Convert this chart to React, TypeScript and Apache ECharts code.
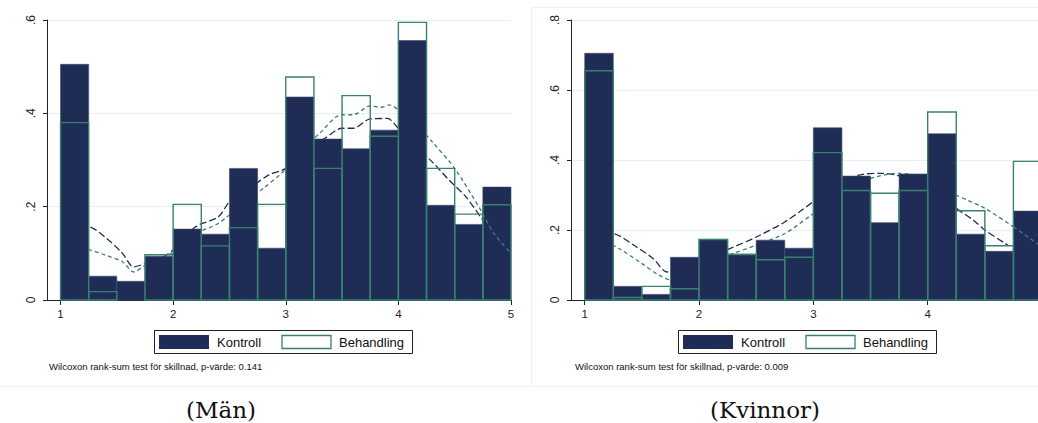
import React, { useEffect, useRef } from 'react';
import * as echarts from 'echarts';

// histogram bins (start of each bin, width 0.25)
const binStarts = [1, 1.25, 1.5, 1.75, 2, 2.25, 2.5, 2.75, 3, 3.25, 3.5, 3.75, 4, 4.25, 4.5, 4.75];
const binWidth = 0.25;

// Män
const menKontroll = [0.505, 0.051, 0.040, 0.094, 0.152, 0.141, 0.282, 0.111, 0.435, 0.345, 0.324, 0.364, 0.556, 0.203, 0.162, 0.242];
const menBehandling = [0.380, 0.018, 0, 0.097, 0.205, 0.116, 0.155, 0.205, 0.478, 0.282, 0.438, 0.351, 0.595, 0.282, 0.184, 0.204];

// Kvinnor
const womenKontroll = [0.705, 0.039, 0.016, 0.122, 0.173, 0.131, 0.171, 0.148, 0.492, 0.354, 0.221, 0.360, 0.475, 0.188, 0.139, 0.254];
const womenBehandling = [0.655, 0.007, 0.039, 0.032, 0.173, 0.130, 0.115, 0.122, 0.421, 0.313, 0.305, 0.313, 0.537, 0.255, 0.155, 0.396];

// kernel density curves [x, density]
const menKdeKontroll = [
    [1.0, 0.159], [1.25, 0.157], [1.4, 0.134], [1.55, 0.100], [1.65, 0.071], [1.75, 0.078], [1.9, 0.091],
    [2.0, 0.107], [2.2, 0.157], [2.4, 0.178], [2.5, 0.210], [2.7, 0.243], [2.85, 0.268], [3.0, 0.282],
    [3.2, 0.325], [3.35, 0.347], [3.5, 0.368], [3.6, 0.368], [3.75, 0.388], [3.9, 0.389], [4.0, 0.368],
    [4.15, 0.330], [4.3, 0.296], [4.45, 0.257], [4.6, 0.221], [4.75, 0.171]
];
const menKdeBehandling = [
    [1.0, 0.119], [1.25, 0.108], [1.4, 0.096], [1.55, 0.082], [1.65, 0.060], [1.75, 0.074], [1.9, 0.089],
    [2.0, 0.103], [2.2, 0.142], [2.4, 0.164], [2.6, 0.203], [2.8, 0.239], [3.0, 0.280], [3.15, 0.321],
    [3.3, 0.357], [3.5, 0.397], [3.6, 0.397], [3.75, 0.416], [3.85, 0.413], [3.92, 0.418], [4.05, 0.397],
    [4.15, 0.379], [4.3, 0.339], [4.5, 0.282], [4.75, 0.185], [4.85, 0.142], [5.0, 0.100]
];
const womenKdeKontroll = [
    [1.0, 0.195], [1.25, 0.190], [1.45, 0.152], [1.6, 0.118], [1.72, 0.080], [1.85, 0.095], [2.0, 0.110],
    [2.27, 0.147], [2.5, 0.180], [2.75, 0.223], [2.9, 0.257], [3.0, 0.281], [3.2, 0.320], [3.4, 0.357],
    [3.6, 0.362], [3.75, 0.355], [4.0, 0.330], [4.25, 0.262], [4.4, 0.228], [4.5, 0.200], [4.7, 0.157]
];
const womenKdeBehandling = [
    [1.0, 0.173], [1.15, 0.169], [1.3, 0.147], [1.5, 0.104], [1.65, 0.071], [1.75, 0.058], [2.0, 0.095],
    [2.3, 0.133], [2.5, 0.157], [2.75, 0.190], [3.0, 0.247], [3.25, 0.305], [3.5, 0.347], [3.75, 0.362],
    [4.0, 0.347], [4.25, 0.300], [4.35, 0.285], [4.5, 0.262], [4.75, 0.209], [5.0, 0.152]
];

const menXTicks = [1, 2, 3, 4, 5];
const womenXTicks = [1, 2, 3, 4]; // "5" falls outside the picture on this panel
const menYMax = 0.6;
const womenYMax = 0.8;
const yStep = 0.2;

const legendNames = ['Kontroll', 'Behandling'];
const notes = ['Wilcoxon rank-sum test för skillnad, p-värde: 0.141', 'Wilcoxon rank-sum test för skillnad, p-värde: 0.009'];
const panelTitles = ['(Män)', '(Kvinnor)'];

const NAVY = '#1f2d56';
const TEAL = '#3a8070';
const SANS = '"Liberation Sans", Arial, sans-serif';

const toBins = (vals: number[]) => binStarts.map((s, i) => [s, s + binWidth, vals[i]]);

const histItem = (fill: string, stroke: string, lw: number) => (params: any, api: any) => {
    const v = api.value(2);
    if (!(v > 0)) return null;
    const p0 = api.coord([api.value(0), v]);
    const p1 = api.coord([api.value(1), 0]);
    return {
        type: 'rect',
        shape: { x: p0[0], y: p0[1], width: p1[0] - p0[0], height: p1[1] - p0[1] },
        style: { fill, stroke, lineWidth: lw }
    };
};

const yFmt = (v: number) => (v === 0 ? '0' : v.toFixed(1).replace(/^0/, ''));

const App: React.FC = () => {
    const chartRef = useRef<HTMLDivElement>(null);

    useEffect(() => {
        if (!chartRef.current) return;
        const chart = echarts.init(chartRef.current, null, { renderer: 'svg' });

        const xAxisBase = (gridIndex: number, ticks: number[]) => ({
            type: 'value' as const,
            gridIndex,
            min: 0.88,
            max: 5,
            axisLine: { show: true, lineStyle: { color: '#222', width: 1 } },
            axisTick: { show: true, customValues: ticks, length: 5, lineStyle: { color: '#222' } },
            axisLabel: { customValues: ticks, color: '#222', fontSize: 11.5, fontFamily: SANS, margin: 8 },
            splitLine: { show: false }
        });
        const yAxisBase = (gridIndex: number, max: number) => ({
            type: 'value' as const,
            gridIndex,
            min: 0,
            max,
            interval: yStep,
            axisLine: { show: true, lineStyle: { color: '#222', width: 1 } },
            axisTick: { show: true, length: 4, lineStyle: { color: '#222' } },
            axisLabel: { rotate: 90, color: '#222', fontSize: 12, fontFamily: SANS, margin: 10, formatter: yFmt },
            splitLine: { show: true, lineStyle: { color: '#e6eff2', width: 1 } }
        });

        const kdeLine = (idx: number, data: number[][], color: string, dash: number[], z: number) => ({
            type: 'line' as const,
            xAxisIndex: idx,
            yAxisIndex: idx,
            data,
            z,
            smooth: 0.3,
            symbol: 'none',
            silent: true,
            lineStyle: { color, width: 1.3, type: dash }
        });

        const panelSeries = (idx: number, kon: number[], beh: number[], kdeK: number[][], kdeB: number[][]) => [
            kdeLine(idx, kdeK, NAVY, [7, 3], 1),
            kdeLine(idx, kdeB, TEAL, [4, 3], 1),
            {
                type: 'custom' as const,
                name: legendNames[0],
                xAxisIndex: idx,
                yAxisIndex: idx,
                z: 2,
                data: toBins(kon),
                renderItem: histItem(NAVY, '#3d4a6e', 0.6),
                silent: true
            },
            {
                type: 'custom' as const,
                name: legendNames[1],
                xAxisIndex: idx,
                yAxisIndex: idx,
                z: 3,
                data: toBins(beh),
                renderItem: histItem('rgba(0,0,0,0)', TEAL, 1.4),
                silent: true
            },
            // the last part of the Behandling curve lies over the final bar
            kdeLine(idx, kdeB.filter((p) => p[0] >= 4.75), TEAL, [4, 3], 4)
        ];

        const legend = (bx: number) => [
            { type: 'rect', shape: { x: bx + 0.5, y: 330.5, width: 258, height: 23 }, style: { fill: '#fff', stroke: '#222', lineWidth: 1 } },
            { type: 'rect', shape: { x: bx + 5, y: 335, width: 50, height: 14 }, style: { fill: NAVY } },
            { type: 'text', x: bx + 63, y: 342, style: { text: legendNames[0], font: `13px ${SANS}`, fill: '#111', verticalAlign: 'middle' } },
            { type: 'rect', shape: { x: bx + 128, y: 335.5, width: 49, height: 13 }, style: { fill: '#fff', stroke: TEAL, lineWidth: 1.3 } },
            { type: 'text', x: bx + 185, y: 342, style: { text: legendNames[1], font: `13px ${SANS}`, fill: '#111', verticalAlign: 'middle' } }
        ];

        const option: echarts.EChartsOption = {
            animation: false,
            backgroundColor: '#fff',
            grid: [
                { left: 47, top: 20, width: 464, height: 280, outerBoundsMode: 'none' },
                { left: 571, top: 20, width: 471, height: 280, outerBoundsMode: 'none' }
            ] as any,
            xAxis: [xAxisBase(0, menXTicks), xAxisBase(1, womenXTicks)],
            yAxis: [yAxisBase(0, menYMax), yAxisBase(1, womenYMax)],
            series: [
                ...panelSeries(0, menKontroll, menBehandling, menKdeKontroll, menKdeBehandling),
                ...panelSeries(1, womenKontroll, womenBehandling, womenKdeKontroll, womenKdeBehandling)
            ] as any,
            graphic: [
                { type: 'line', shape: { x1: 0, y1: 386.5, x2: 1038, y2: 386.5 }, style: { stroke: '#f0f1f2', lineWidth: 1 } },
                { type: 'line', shape: { x1: 531.5, y1: 7, x2: 531.5, y2: 386 }, style: { stroke: '#f0f1f2', lineWidth: 1 } },
                { type: 'line', shape: { x1: 531, y1: 7.5, x2: 1038, y2: 7.5 }, style: { stroke: '#f0f1f2', lineWidth: 1 } },
                ...legend(154),
                ...legend(678),
                { type: 'text', x: 49, y: 366, style: { text: notes[0], font: `9.5px ${SANS}`, fill: '#111', verticalAlign: 'middle' } },
                { type: 'text', x: 575, y: 366, style: { text: notes[1], font: `9.5px ${SANS}`, fill: '#111', verticalAlign: 'middle' } },
                { type: 'text', x: 221, y: 410, style: { text: panelTitles[0], font: '23px "DejaVu Serif", serif', fill: '#111', align: 'center', verticalAlign: 'middle' } },
                { type: 'text', x: 765, y: 410, style: { text: panelTitles[1], font: '23px "DejaVu Serif", serif', fill: '#111', align: 'center', verticalAlign: 'middle' } }
            ] as any
        };

        chart.setOption(option);
        return () => {
            chart.dispose();
        };
    }, []);

    return (
        <div
            ref={chartRef}
            style={{ position: 'absolute', left: 0, top: 0, width: '1038px', height: '423px', overflow: 'hidden' }}
        />
    );
};

export default App;
